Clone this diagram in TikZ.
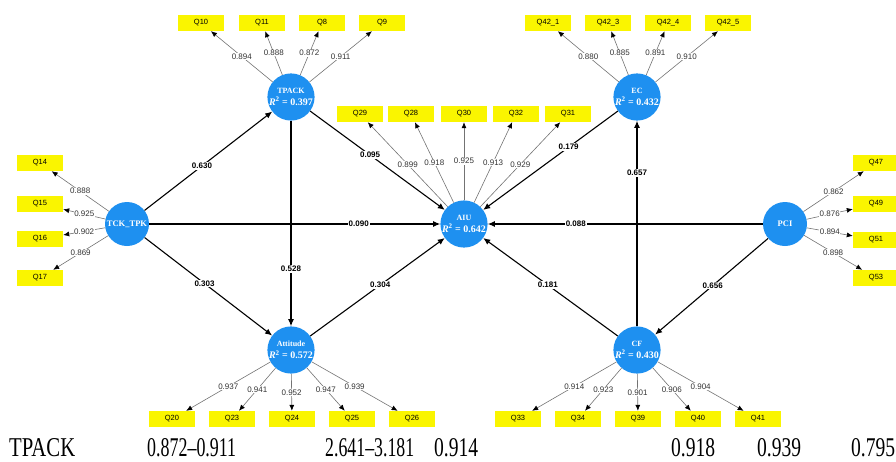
\documentclass[tikz,border=0pt]{standalone}
\usepackage{fontspec}
\setmainfont{Liberation Serif}
\newfontfamily\arialf{Liberation Sans}
\usetikzlibrary{arrows.meta}
\definecolor{plsblue}{RGB}{30,144,240}
\definecolor{plsyellow}{RGB}{250,245,0}
\newcommand{\lvtext}[2]{#1\\{\fontsize{10}{12}\selectfont\textit{R}\textsuperscript{2} = #2}}
\begin{document}
\begin{tikzpicture}[x=1pt,y=-1pt,
 lv/.style={circle,fill=plsblue,minimum size=44pt,inner sep=0pt,text=white,align=center,font=\bfseries\fontsize{8}{12}\selectfont},
 ind/.style={rectangle,fill=plsyellow,minimum width=46pt,minimum height=16pt,inner sep=0pt,font=\arialf\fontsize{7.5}{8}\selectfont},
 ld/.style={draw=black!55,line width=0.6pt,-{Latex[length=6pt,width=5pt,color=black]}},
 pth/.style={draw=black,line width=1.1pt,-{Latex[length=7pt,width=6pt]}},
 ll/.style={fill=white,inner sep=0.6pt,font=\arialf\fontsize{8}{9}\selectfont,text=black!80},
 pl/.style={fill=white,inner sep=1pt,font=\arialf\bfseries\fontsize{8}{9}\selectfont},
 bt/.style={anchor=base west,inner sep=0pt}]
\useasboundingbox (0,0) rectangle (896,461);
% latent variables
\node[lv] (tpack) at (291,97) {\lvtext{TPACK}{0.397}};
\node[lv] (ec) at (637,97) {\lvtext{EC}{0.432}};
\node[lv,font=\bfseries\fontsize{8.5}{9}\selectfont] (tck) at (127,224) {TCK\_TPK};
\node[lv] (aiu) at (464,224) {\lvtext{AIU}{0.642}};
\node[lv,font=\bfseries\fontsize{8.5}{9}\selectfont] (pci) at (785,224) {PCI};
\node[lv] (att) at (291,350) {\lvtext{Attitude}{0.572}};
\node[lv] (cf) at (637,350) {\lvtext{CF}{0.430}};
% indicators
\node[ind] (q10) at (201,23) {Q10};
\node[ind] (q11) at (262,23) {Q11};
\node[ind] (q8) at (322,23) {Q8};
\node[ind] (q9) at (382,23) {Q9};
\node[ind] (q421) at (548,23) {Q42\_1};
\node[ind] (q423) at (608,23) {Q42\_3};
\node[ind] (q424) at (668,23) {Q42\_4};
\node[ind] (q425) at (728,23) {Q42\_5};
\node[ind] (q29) at (360,114) {Q29};
\node[ind] (q28) at (411,114) {Q28};
\node[ind] (q30) at (464,114) {Q30};
\node[ind] (q32) at (516,114) {Q32};
\node[ind] (q31) at (568,114) {Q31};
\node[ind] (q14) at (40,163) {Q14};
\node[ind] (q15) at (40,204) {Q15};
\node[ind] (q16) at (40,239) {Q16};
\node[ind] (q17) at (40,278) {Q17};
\node[ind] (q47) at (876,163) {Q47};
\node[ind] (q49) at (876,204) {Q49};
\node[ind] (q51) at (876,240) {Q51};
\node[ind] (q53) at (876,278) {Q53};
\node[ind] (q20) at (172,419) {Q20};
\node[ind] (q23) at (232,419) {Q23};
\node[ind] (q24) at (292,419) {Q24};
\node[ind] (q25) at (352,419) {Q25};
\node[ind] (q26) at (412,419) {Q26};
\node[ind] (q33) at (518,419) {Q33};
\node[ind] (q34) at (578,419) {Q34};
\node[ind] (q39) at (638,419) {Q39};
\node[ind] (q40) at (698,419) {Q40};
\node[ind] (q41) at (758,419) {Q41};
% structural paths
\draw[pth] (tck) -- node[pl,pos=0.45]{0.630} (tpack);
\draw[pth] (tck) -- node[pl,pos=0.72]{0.090} (aiu);
\draw[pth] (tck) -- node[pl,pos=0.47]{0.303} (att);
\draw[pth] (tpack) -- node[pl,pos=0.72]{0.528} (att);
\draw[pth] (tpack) -- node[pl,pos=0.445]{0.095} (aiu);
\draw[pth] (att) -- node[pl,pos=0.52]{0.304} (aiu);
\draw[pth] (ec) -- node[pl,pos=0.365]{0.179} (aiu);
\draw[pth] (pci) -- node[pl,pos=0.68]{0.088} (aiu);
\draw[pth] (cf) -- node[pl,pos=0.52]{0.181} (aiu);
\draw[pth] (cf) -- node[pl,pos=0.745]{0.657} (ec);
\draw[pth] (pci) -- node[pl,pos=0.49]{0.656} (cf);
% loadings
\draw[ld] (tpack) -- node[ll]{0.894} (q10);
\draw[ld] (tpack) -- node[ll]{0.888} (q11);
\draw[ld] (tpack) -- node[ll]{0.872} (q8);
\draw[ld] (tpack) -- node[ll]{0.911} (q9);
\draw[ld] (ec) -- node[ll]{0.880} (q421);
\draw[ld] (ec) -- node[ll]{0.885} (q423);
\draw[ld] (ec) -- node[ll]{0.891} (q424);
\draw[ld] (ec) -- node[ll]{0.910} (q425);
\draw[ld] (aiu) -- node[ll]{0.899} (q29);
\draw[ld] (aiu) -- node[ll]{0.918} (q28);
\draw[ld] (aiu) -- node[ll]{0.925} (q30);
\draw[ld] (aiu) -- node[ll]{0.913} (q32);
\draw[ld] (aiu) -- node[ll]{0.929} (q31);
\draw[ld] (tck) -- node[ll]{0.888} (q14);
\draw[ld] (tck) -- node[ll]{0.925} (q15);
\draw[ld] (tck) -- node[ll]{0.902} (q16);
\draw[ld] (tck) -- node[ll]{0.869} (q17);
\draw[ld] (pci) -- node[ll]{0.862} (q47);
\draw[ld] (pci) -- node[ll]{0.876} (q49);
\draw[ld] (pci) -- node[ll]{0.894} (q51);
\draw[ld] (pci) -- node[ll]{0.898} (q53);
\draw[ld] (att) -- node[ll]{0.937} (q20);
\draw[ld] (att) -- node[ll]{0.941} (q23);
\draw[ld] (att) -- node[ll]{0.952} (q24);
\draw[ld] (att) -- node[ll]{0.947} (q25);
\draw[ld] (att) -- node[ll]{0.939} (q26);
\draw[ld] (cf) -- node[ll]{0.914} (q33);
\draw[ld] (cf) -- node[ll]{0.923} (q34);
\draw[ld] (cf) -- node[ll]{0.901} (q39);
\draw[ld] (cf) -- node[ll]{0.906} (q40);
\draw[ld] (cf) -- node[ll]{0.904} (q41);
% table row fragment
\node[bt] (r1) at (9,456) {\resizebox{66pt}{18pt}{TPACK}};
\node[bt] (r2) at (147,456) {\resizebox{89pt}{18pt}{0.872–0.911}};
\node[bt] (r3) at (325,456) {\resizebox{89pt}{18pt}{2.641–3.181}};
\node[bt] (r4) at (434,456) {\resizebox{44pt}{18pt}{0.914}};
\node[bt] (r5) at (671,456) {\resizebox{44pt}{18pt}{0.918}};
\node[bt] (r6) at (757,456) {\resizebox{44pt}{18pt}{0.939}};
\node[bt] (r7) at (851,456) {\resizebox{44pt}{18pt}{0.795}};
\end{tikzpicture}
\end{document}
